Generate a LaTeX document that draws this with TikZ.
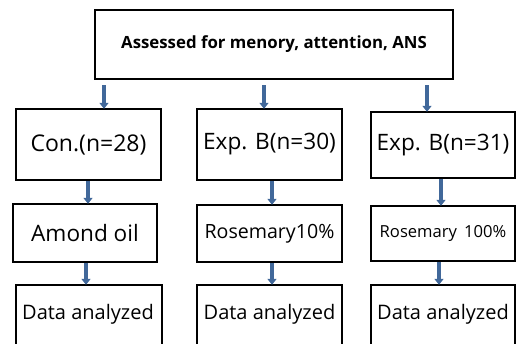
\documentclass[tikz,border=0pt]{standalone}
\usepackage{fontspec}
\setmainfont{Open Sans}
\usetikzlibrary{arrows.meta}
\definecolor{arrblue}{HTML}{41689A}
\tikzset{
  box/.style={draw=black,line width=2.4pt,fill=white,inner sep=0pt,align=center},
  arr/.style={draw=arrblue,line width=3.6pt,-{Triangle[width=9pt,length=6pt]},shorten >=-1pt}
}
\begin{document}
\begin{tikzpicture}[x=1pt,y=-1pt]
\useasboundingbox (0,0) rectangle (518,343);
\clip (0,0) rectangle (518,343);
% top
\node[box,minimum width=358pt,minimum height=69pt,font=\fontsize{16.8}{18}\selectfont\bfseries] (top) at (274,44.5) {Assessed for menory, attention, ANS};
% row 2
\node[box,minimum width=145pt,minimum height=71pt,font=\fontsize{23}{26}\selectfont] (b1) at (88.5,144.5) {Con.(n=28)};
\node[box,minimum width=145pt,minimum height=71pt,font=\fontsize{22.6}{26}\selectfont] (b2) at (269.5,144.5) {Exp. B(n=30)};
\node[box,minimum width=144pt,minimum height=66pt,font=\fontsize{22.6}{26}\selectfont] (b3) at (443,145) {Exp. B(n=31)};
% row 3
\node[box,minimum width=144pt,minimum height=58pt,font=\fontsize{22.6}{26}\selectfont] (a1) at (85,233) {Amond oil};
\node[box,minimum width=145pt,minimum height=57pt,font=\fontsize{19.6}{22}\selectfont] (a2) at (269.5,233.5) {Rosemary10\%};
\node[box,minimum width=144pt,minimum height=55pt,font=\fontsize{16.6}{19}\selectfont] (a3) at (443,233.5) {Rosemary\, 100\%};
% row 4
\node[box,minimum width=146pt,minimum height=74pt] (d1) at (89,322) {};
\node[box,minimum width=145pt,minimum height=74pt] (d2) at (269.5,322) {};
\node[box,minimum width=144pt,minimum height=74pt] (d3) at (443,322) {};
\node[font=\fontsize{20}{22}\selectfont,inner sep=0pt] (t1) at (88,314) {Data analyzed};
\node[font=\fontsize{20}{22}\selectfont,inner sep=0pt] (t2) at (269.5,314) {Data analyzed};
\node[font=\fontsize{20}{22}\selectfont,inner sep=0pt] (t3) at (443,314) {Data analyzed};
% arrow columns
\coordinate (c1) at (104,0);
\coordinate (c2) at (264,0);
\coordinate (c3) at (427,0);
\coordinate (e1) at (88,0);
\coordinate (e2) at (272,0);
\coordinate (e3) at (441,0);
\coordinate (f1) at (86,0);
\coordinate (f2) at (272,0);
\coordinate (f3) at (439,0);
\draw[arr] ([yshift=-5pt]top.south -| c1) -- (b1.north -| c1);
\draw[arr] ([yshift=-5pt]top.south -| c2) -- (b2.north -| c2);
\draw[arr] ([yshift=-5pt]top.south -| c3) -- (b3.north -| c3);
\draw[arr] (b1.south -| e1) -- (a1.north -| e1);
\draw[arr] (b2.south -| e2) -- (a2.north -| e2);
\draw[arr] (b3.south -| e3) -- (a3.north -| e3);
\draw[arr] (a1.south -| f1) -- (d1.north -| f1);
\draw[arr] (a2.south -| f2) -- (d2.north -| f2);
\draw[arr] (a3.south -| f3) -- (d3.north -| f3);
\end{tikzpicture}
\end{document}
